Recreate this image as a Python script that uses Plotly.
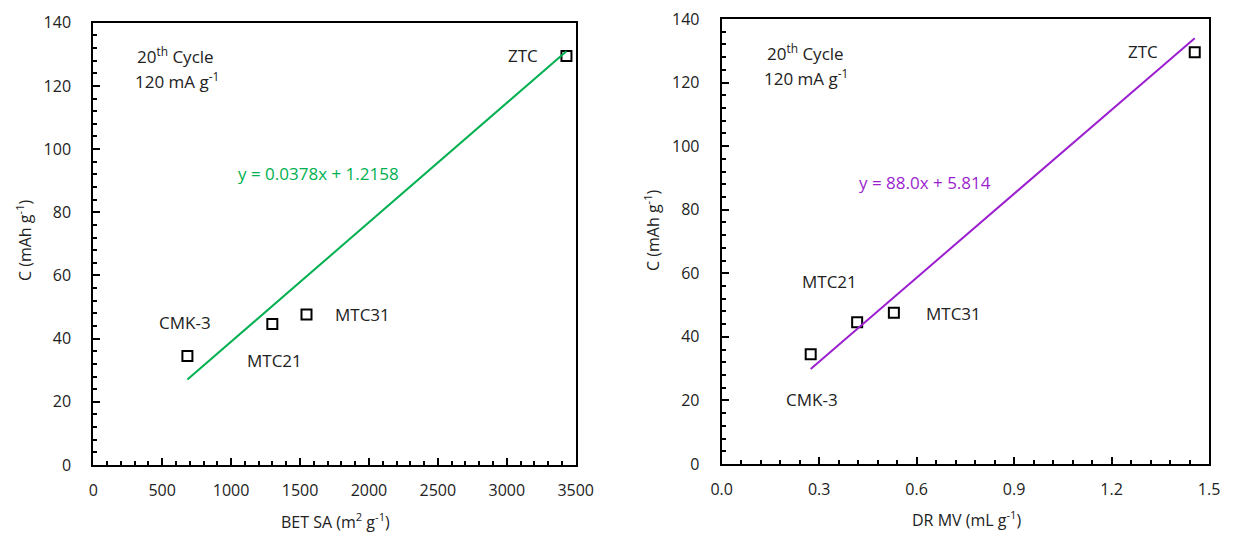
import plotly.graph_objects as go

# Sample names and measured values
samples = ["CMK-3", "MTC21", "MTC31", "ZTC"]
bet_sa = [683, 1299, 1547, 3433]          # BET surface area, m2/g
dr_mv = [0.274, 0.417, 0.530, 1.456]      # DR micropore volume, mL/g
capacity = [34.5, 44.6, 47.6, 129.5]      # capacity at 20th cycle, mAh/g

# Linear fit coefficients shown on each panel
fit_sa = (0.0378, 1.2158)
fit_mv = (88.0, 5.814)

GREEN = "#00B050"
PURPLE = "#9B1FCF"
TEXT = "#222222"
FONT = "Open Sans"
TICK_SIZE = 16
LABEL_SIZE = 17

fig = go.Figure()

# Left panel: capacity vs BET SA
fig.add_trace(go.Scatter(
    x=bet_sa, y=capacity, mode="markers", xaxis="x", yaxis="y",
    marker=dict(symbol="square-open", size=10, color="black", line=dict(width=2)),
    showlegend=False, hoverinfo="x+y"))
sa_line_x = [min(bet_sa), max(bet_sa)]
fig.add_trace(go.Scatter(
    x=sa_line_x, y=[fit_sa[0] * v + fit_sa[1] for v in sa_line_x],
    mode="lines", xaxis="x", yaxis="y",
    line=dict(color=GREEN, width=2), showlegend=False))

# Right panel: capacity vs DR MV
fig.add_trace(go.Scatter(
    x=dr_mv, y=capacity, mode="markers", xaxis="x2", yaxis="y2",
    marker=dict(symbol="square-open", size=10, color="black", line=dict(width=2)),
    showlegend=False, hoverinfo="x+y"))
mv_line_x = [min(dr_mv), max(dr_mv)]
fig.add_trace(go.Scatter(
    x=mv_line_x, y=[fit_mv[0] * v + fit_mv[1] for v in mv_line_x],
    mode="lines", xaxis="x2", yaxis="y2",
    line=dict(color=PURPLE, width=2), showlegend=False))

axis_common = dict(
    showline=True, linecolor="black", linewidth=2, mirror=True,
    showgrid=False, zeroline=False, automargin=False,
    ticks="inside", ticklen=7, tickwidth=1.5, tickcolor="black",
    tickfont=dict(family=FONT, size=TICK_SIZE, color=TEXT),
)
minor_common = dict(ticks="inside", ticklen=4, tickwidth=1.5, tickcolor="black")

fig.update_layout(
    width=1237, height=536,
    margin=dict(l=0, r=0, t=0, b=0),
    paper_bgcolor="white", plot_bgcolor="white",
    font=dict(family=FONT, size=LABEL_SIZE, color=TEXT),
    xaxis=dict(domain=[0.0754, 0.4654], range=[0, 3500], dtick=500,
               minor=dict(dtick=100, **minor_common),
               anchor="y", ticklabelstandoff=10, **axis_common),
    yaxis=dict(domain=[0.1325, 0.9576], range=[0, 140], dtick=20,
               minor=dict(dtick=4, **minor_common),
               anchor="x", ticklabelstandoff=17, **axis_common),
    xaxis2=dict(domain=[0.5834, 0.9774], range=[0, 1.5], dtick=0.3, tickformat=".1f",
                minor=dict(dtick=0.06, **minor_common),
                anchor="y2", ticklabelstandoff=10, **axis_common),
    yaxis2=dict(domain=[0.1343, 0.9646], range=[0, 140], dtick=20,
                minor=dict(dtick=4, **minor_common),
                anchor="x2", ticklabelstandoff=17, **axis_common),
)

annotations = []

def note(text, x, y, xref, yref, color=TEXT, angle=0, size=LABEL_SIZE, yanchor="middle"):
    annotations.append(dict(text=text, x=x, y=y, xref=xref, yref=yref,
                            showarrow=False, xanchor="center", yanchor=yanchor,
                            textangle=angle,
                            font=dict(family=FONT, size=size, color=color)))

# Left panel labels
note("CMK-3", 666, 45.0, "x", "y")
note("MTC21", 1318, 33.2, "x", "y")
note("MTC31", 1956, 47.5, "x", "y")
note("ZTC", 3118, 129.6, "x", "y")
note("20<sup>th</sup> Cycle", 600, 129.5, "x", "y")
note("120 mA g<sup>-1</sup>", 604, 121.6, "x", "y")
note(f"y = {fit_sa[0]:.4f}x + {fit_sa[1]:.4f}", 1632, 92.4, "x", "y", GREEN)

# Right panel labels
note("MTC21", 0.333, 57.3, "x2", "y2")
note("MTC31", 0.713, 47.2, "x2", "y2")
note("CMK-3", 0.277, 20.4, "x2", "y2")
note("ZTC", 1.297, 129.7, "x2", "y2")
note("20<sup>th</sup> Cycle", 0.259, 129.6, "x2", "y2")
note("120 mA g<sup>-1</sup>", 0.259, 121.7, "x2", "y2")
note(f"y = {fit_mv[0]:.1f}x + {fit_mv[1]:.3f}", 0.626, 88.7, "x2", "y2", PURPLE)

# Axis titles
note("BET SA (m<sup>2</sup> g<sup>-1</sup>)", 0.2716, 0.002, "paper", "paper",
     size=TICK_SIZE, yanchor="bottom")
note("DR MV (mL g<sup>-1</sup>)", 0.7817, 0.006, "paper", "paper",
     size=TICK_SIZE, yanchor="bottom")
note("C (mAh g<sup>-1</sup>)", 0.0194, 0.5522, "paper", "paper", angle=-90, size=TICK_SIZE)
note("C (mAh g<sup>-1</sup>)", 0.5271, 0.571, "paper", "paper", angle=-90, size=TICK_SIZE)

fig.update_layout(annotations=annotations)

fig.write_html("out.html")
